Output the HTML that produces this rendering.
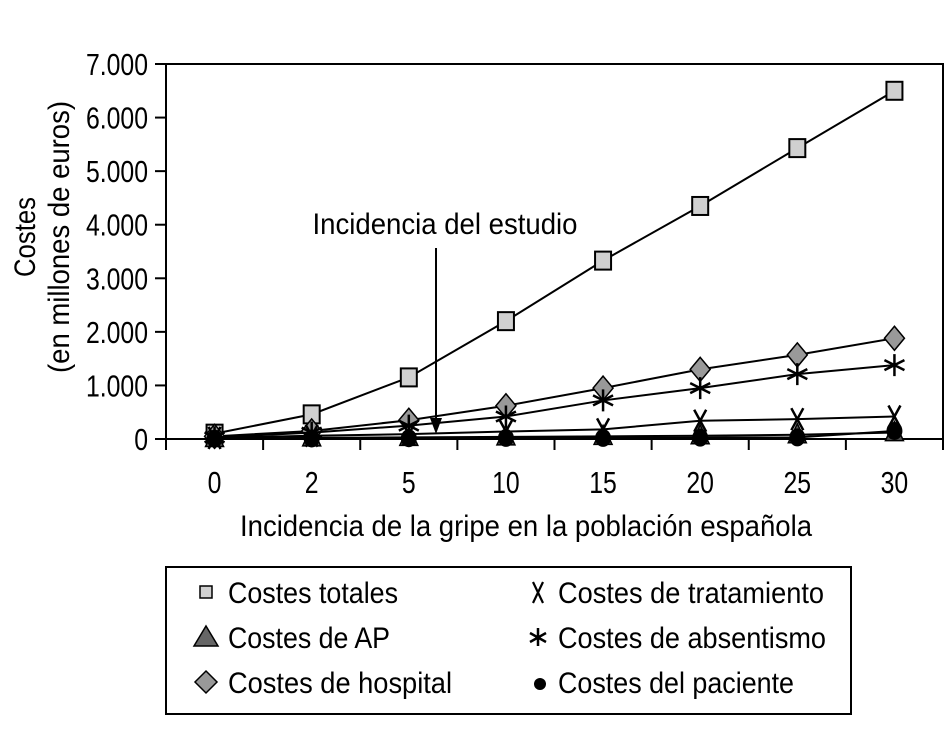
<!DOCTYPE html>
<html><head><meta charset="utf-8"><style>
body{margin:0;background:#fff;}
svg{display:block;font-family:"Liberation Sans",sans-serif;}
</style></head><body>
<svg id="chart" width="949" height="756" viewBox="0 0 949 756">
<g id="axes"></g><g id="series"></g><g id="legend"></g>
</svg>
<script>
const categories = ["0","2","5","10","15","20","25","30"];
const yTicks = [0,1000,2000,3000,4000,5000,6000,7000];
const yTickLabels = ["0","1.000","2.000","3.000","4.000","5.000","6.000","7.000"];
const totales = [100,460,1150,2200,3330,4350,5430,6500];
const hospital = [50,150,350,620,950,1300,1570,1880];
const absentismo = [30,120,250,420,720,950,1210,1380];
const tratamiento = [20,60,90,140,180,340,370,420];
const ap = [10,20,30,40,50,60,80,120];
const paciente = [5,10,15,20,20,25,30,150];
const studyIncidence = 6.4;

const NS="http://www.w3.org/2000/svg";
const L=166,R=943,T=64,B=439,YMAX=7000;
const cw=(R-L)/categories.length;
const xs=i=>L+cw*(i+0.5);
const ys=v=>B-(v/YMAX)*(B-T);
const xInc=v=>xs(2)+(v-5)/5*cw;
function el(t,a,p){const e=document.createElementNS(NS,t);for(const k in a)e.setAttribute(k,a[k]);p.appendChild(e);return e;}
function squeeze(t,w){
  const n=t.getComputedTextLength();
  const target=w||n*0.8;
  t.setAttribute('textLength',target);
  t.setAttribute('lengthAdjust','spacingAndGlyphs');
}
const axes=document.getElementById('axes'),ser=document.getElementById('series'),leg=document.getElementById('legend');

const box=el('rect',{x:L,y:T,width:R-L,height:B-T,fill:'none',stroke:'#000','stroke-width':2},axes);


yTicks.forEach((v,i)=>{
  el('line',{x1:L-11,x2:L,y1:ys(v),y2:ys(v),stroke:'#000','stroke-width':2},axes);
  const t=el('text',{x:148,y:ys(v)+11,'text-anchor':'end','font-size':31},axes);
  t.textContent=yTickLabels[i];
  
  
  squeeze(t);
});
for(let i=0;i<=categories.length;i++) el('line',{x1:L+cw*i,x2:L+cw*i,y1:B,y2:B+11,stroke:'#000','stroke-width':2},axes);
categories.forEach((c,i)=>{
  const t=el('text',{x:xs(i),y:493,'text-anchor':'middle','font-size':31},axes);
  t.textContent=c;
  
  
  squeeze(t);
});
const xt=el('text',{x:526,y:536,'text-anchor':'middle','font-size':30},axes);
xt.textContent='Incidencia de la gripe en la población española';


squeeze(xt,572);
const yt=el('g',{transform:'translate(35,237) rotate(-90)'},axes);


const s1=el('text',{x:0,y:0,'text-anchor':'middle','font-size':30},yt);s1.textContent='Costes';squeeze(s1,80);
const s2=el('text',{x:0,y:34,'text-anchor':'middle','font-size':30},yt);s2.textContent='(en millones de euros)';squeeze(s2,272);

function marker(type,x,y,p){
  let m;
  if(type==='square') m=el('rect',{x:x-8,y:y-9,width:16,height:18,fill:'#d0d0d0',stroke:'#000','stroke-width':2},p);
  else if(type==='diamond') m=el('polygon',{points:`${x},${y-12} ${x+10},${y} ${x},${y+12} ${x-10},${y}`,fill:'#999',stroke:'#000','stroke-width':1.5},p);
  else if(type==='triangle') m=el('polygon',{points:`${x},${y-11} ${x+9},${y+8} ${x-9},${y+8}`,fill:'#555',stroke:'#000','stroke-width':1.5},p);
  else if(type==='circle') m=el('ellipse',{cx:x,cy:y,rx:8,ry:9,fill:'#000'},p);
  else if(type==='x'){m=el('path',{d:`M${x-6},${y-11}L${x+6},${y+11}M${x+6},${y-11}L${x-6},${y+11}`,stroke:'#000','stroke-width':2.5,fill:'none'},p);}
  else {m=el('path',{d:`M${x},${y-11}V${y+11}M${x-10},${y-5}L${x+10},${y+5}M${x+10},${y-5}L${x-10},${y+5}`,stroke:'#000','stroke-width':2.5,fill:'none'},p);}
  return m;
}
const series=[
  {name:'costes-totales',data:totales,m:'square',label:'Costes totales',col:0,row:0,w:170},
  {name:'costes-ap',data:ap,m:'triangle',label:'Costes de AP',col:0,row:1,w:162},
  {name:'costes-hospital',data:hospital,m:'diamond',label:'Costes de hospital',col:0,row:2,w:224},
  {name:'costes-tratamiento',data:tratamiento,m:'x',label:'Costes de tratamiento',col:1,row:0,w:266},
  {name:'costes-absentismo',data:absentismo,m:'star',label:'Costes de absentismo',col:1,row:1,w:268},
  {name:'costes-paciente',data:paciente,m:'circle',label:'Costes del paciente',col:1,row:2,w:236}
];
series.forEach(s=>{
  const g=el('g',{},ser);
  
  
  const line=el('polyline',{points:s.data.map((v,i)=>xs(i)+','+ys(v)).join(' '),fill:'none',stroke:'#000','stroke-width':2},g);
  
  
  s.data.forEach((v,i)=>{
    const m=marker(s.m,xs(i),ys(v),g);
    
    
  });
});
const ax=xInc(studyIncidence);
const an=el('g',{},ser);


el('line',{x1:ax,x2:ax,y1:248,y2:420,stroke:'#000','stroke-width':2},an);
el('polygon',{points:`${ax-6},418 ${ax+6},418 ${ax},434`,fill:'#000'},an);
const at=el('text',{x:445,y:234,'text-anchor':'middle','font-size':30},an);
at.textContent='Incidencia del estudio';
squeeze(at,265);

const lb=el('rect',{x:166,y:567,width:685,height:147,fill:'#fff',stroke:'#000','stroke-width':2},leg);


series.forEach(s=>{
  const g=el('g',{},leg);
  
  
  const mx=s.col===0?206:538, y=592+s.row*45;
  if(s.m==='square') el('rect',{x:mx-6,y:y-6,width:12,height:12,fill:'#d0d0d0',stroke:'#000','stroke-width':1.5},g);
  else if(s.m==='triangle') el('polygon',{points:`${mx},${y-11} ${mx+12},${y+9} ${mx-12},${y+9}`,fill:'#666',stroke:'#000','stroke-width':1.5},g);
  else if(s.m==='diamond') el('polygon',{points:`${mx},${y-11} ${mx+11},${y} ${mx},${y+11} ${mx-11},${y}`,fill:'#999',stroke:'#000','stroke-width':1.5},g);
  else if(s.m==='circle') el('circle',{cx:mx+2,cy:y+2,r:6,fill:'#000'},g);
  else if(s.m==='x') el('path',{d:`M${mx-5},${y-10}L${mx+5},${y+11}M${mx+5},${y-10}L${mx-5},${y+11}`,stroke:'#000','stroke-width':2.2,fill:'none'},g);
  else el('path',{d:`M${mx},${y-9}V${y+9}M${mx-8},${y-4}L${mx+8},${y+5}M${mx+8},${y-4}L${mx-8},${y+5}`,stroke:'#000','stroke-width':2.5,fill:'none'},g);
  const t=el('text',{x:s.col===0?228:558,y:y+11,'font-size':30},g);
  t.textContent=s.label;
  squeeze(t,s.w);
});
</script>
</body></html>
